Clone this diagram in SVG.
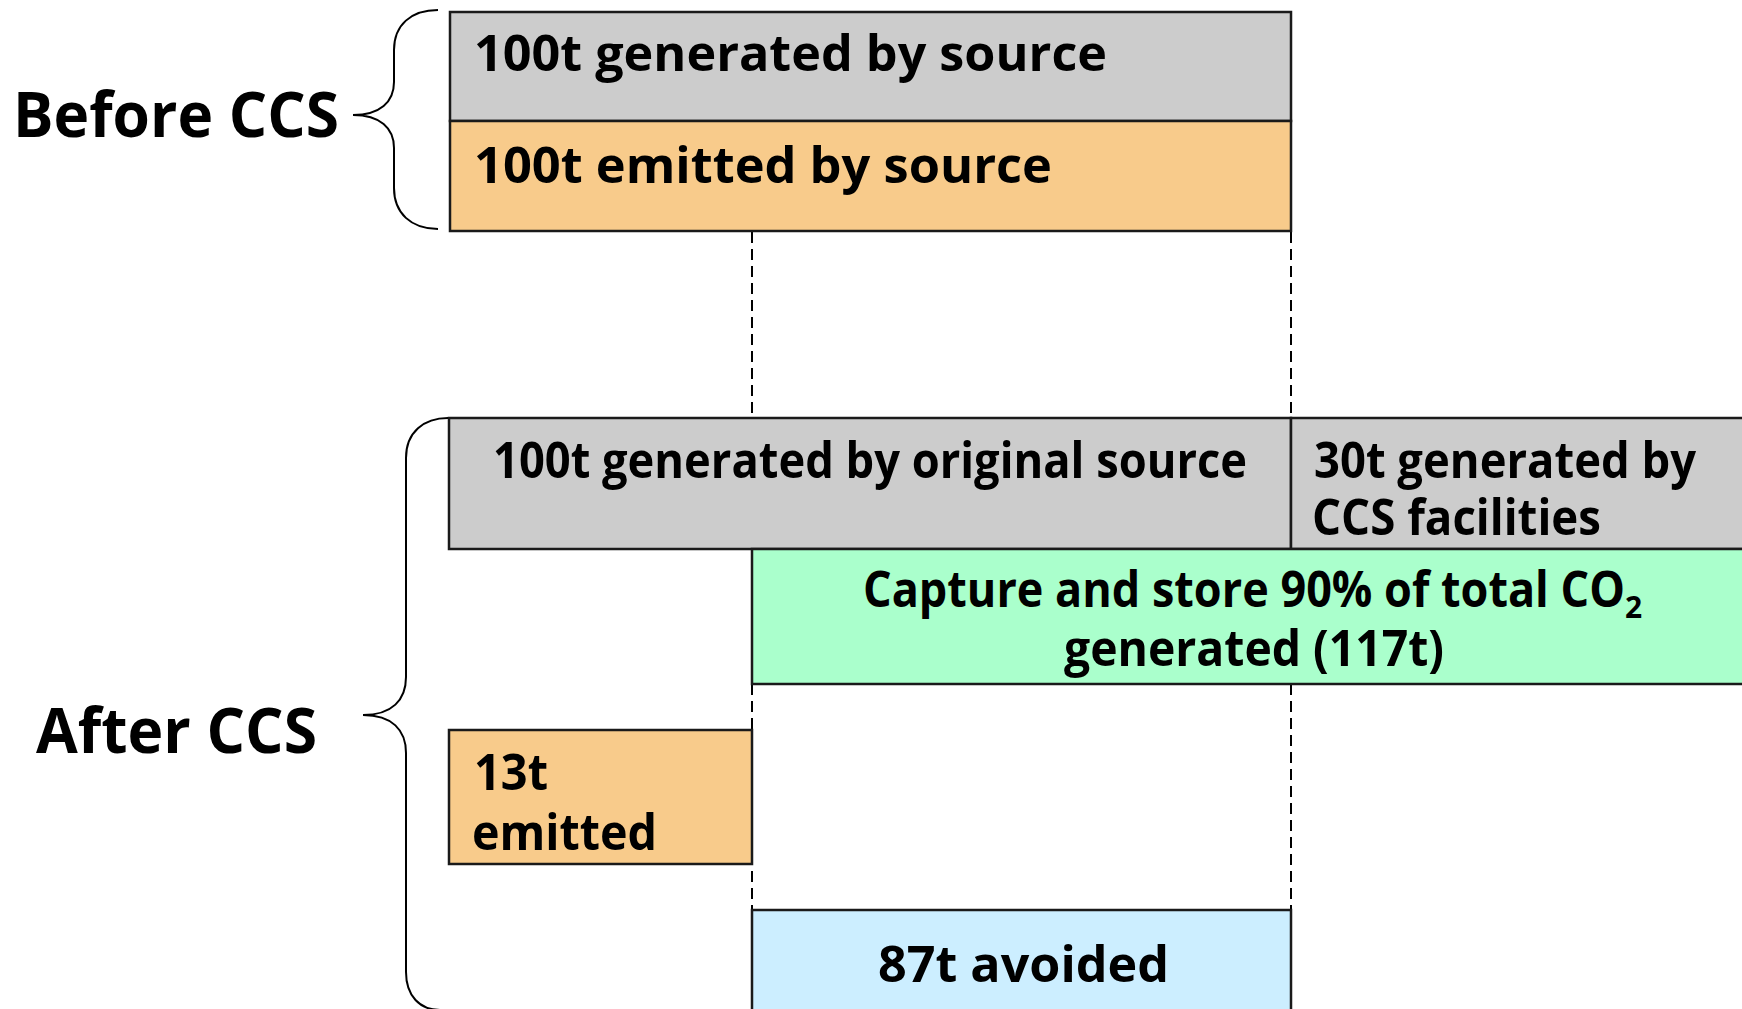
<svg xmlns="http://www.w3.org/2000/svg" width="1742" height="1009" viewBox="0 0 1742 1009">
<style>
.box{stroke:#1a1a1a;stroke-width:2.5}
.gray{fill:#cccccc}
.orange{fill:#f8cb8b}
.green{fill:#aaffcc}
.blue{fill:#cceeff}
.t{font-family:"Open Sans","Noto Sans","DejaVu Sans",sans-serif;font-weight:700;font-size:51px;fill:#000}
.big{font-size:62px}
.brace{fill:none;stroke:#000;stroke-width:2}
.dash{fill:none;stroke:#000;stroke-width:2;stroke-dasharray:11 6}
</style>
<rect width="1742" height="1009" fill="#fff"/>
<g id="connectors">
<line class="dash" x1="752" y1="232" x2="752" y2="418"/>
<line class="dash" x1="1291" y1="232" x2="1291" y2="418"/>
<line class="dash" x1="752" y1="684" x2="752" y2="910"/>
<line class="dash" x1="1291" y1="684" x2="1291" y2="910"/>
</g>
<g id="before-brace">
<path class="brace" d="M438,10 C411,10 394,25 394,50 L394,82 C394,102 380,115 353,115 C380,115 394,128 394,148 L394,188 C394,213 411,229 438,229"/>
<text class="t big" x="13" y="137" textLength="326" lengthAdjust="spacingAndGlyphs">Before CCS</text>
</g>
<g id="after-brace">
<path class="brace" d="M448,418 C424,418 406,432 406,458 L406,677 C406,700 392,715 363,715 C392,715 406,730 406,753 L406,972 C406,996 420,1010 440,1010"/>
<text class="t big" x="36" y="753" textLength="281" lengthAdjust="spacingAndGlyphs">After CCS</text>
</g>
<g id="generated-before">
<rect class="box gray" x="450" y="12" width="841" height="109"/>
<text class="t" x="474" y="71" textLength="633" lengthAdjust="spacingAndGlyphs">100t generated by source</text>
</g>
<g id="emitted-before">
<rect class="box orange" x="450" y="121" width="841" height="110"/>
<text class="t" x="474" y="183" textLength="578" lengthAdjust="spacingAndGlyphs">100t emitted by source</text>
</g>
<g id="generated-original">
<rect class="box gray" x="449" y="418" width="842" height="131"/>
<text class="t" x="493" y="478" textLength="754" lengthAdjust="spacingAndGlyphs">100t generated by original source</text>
</g>
<g id="generated-ccs">
<rect class="box gray" x="1291" y="418" width="460" height="131"/>
<text class="t" x="1314" y="478" textLength="382" lengthAdjust="spacingAndGlyphs">30t generated by</text>
<text class="t" x="1312" y="535" textLength="289" lengthAdjust="spacingAndGlyphs">CCS facilities</text>
</g>
<g id="capture">
<rect class="box green" x="752" y="549" width="1000" height="135"/>
<text class="t" x="863" y="607"><tspan textLength="762" lengthAdjust="spacingAndGlyphs">Capture and store 90% of total CO</tspan><tspan font-size="30" dy="11">2</tspan></text>
<text class="t" x="1064" y="666" textLength="380" lengthAdjust="spacingAndGlyphs">generated (117t)</text>
</g>
<g id="emitted-after">
<rect class="box orange" x="449" y="730" width="303" height="134"/>
<text class="t" x="474" y="790" textLength="74" lengthAdjust="spacingAndGlyphs">13t</text>
<text class="t" x="472" y="850" textLength="185" lengthAdjust="spacingAndGlyphs">emitted</text>
</g>
<g id="avoided">
<rect class="box blue" x="752" y="910" width="539" height="110"/>
<text class="t" x="878" y="982" textLength="291" lengthAdjust="spacingAndGlyphs">87t avoided</text>
</g>
</svg>
